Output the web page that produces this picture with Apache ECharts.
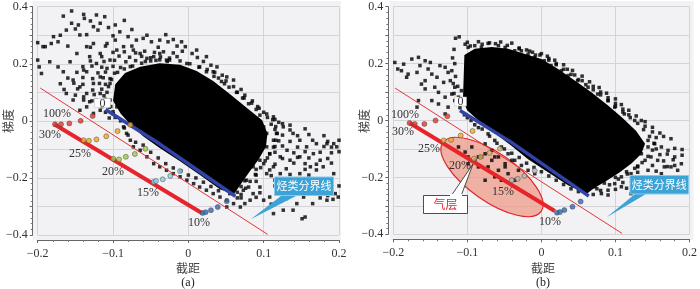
<!DOCTYPE html>
<html>
<head>
<meta charset="utf-8">
<script src="https://cdn.jsdelivr.net/npm/echarts@6/dist/echarts.min.js"></script>
<style>
html, body { margin: 0; padding: 0; background: #fff; }
#chart { width: 700px; height: 289px; }
</style>
</head>
<body>
<div id="chart"></div>
<script>
// ---- (a) 数据 ----
const coreA = [
  [-0.100, 0.070], [-0.097, 0.128], [-0.084, 0.168], [-0.064, 0.190], [-0.038, 0.202], [-0.011, 0.197],
  [0.011, 0.175], [0.033, 0.140], [0.055, 0.094], [0.077, 0.047], [0.098, 0.002], [0.105, -0.044],
  [0.103, -0.091], [0.093, -0.136], [0.080, -0.183], [0.068, -0.228], [0.060, -0.258], [0.042, -0.240],
  [0.015, -0.189], [-0.011, -0.142], [-0.038, -0.095], [-0.060, -0.054], [-0.077, -0.013], [-0.090, 0.026]
];
const rimA = [
  [-0.106, 0.120], [-0.102, 0.145], [-0.094, 0.170], [-0.085, 0.182], [-0.074, 0.192], [-0.062, 0.202],
  [-0.050, 0.210], [-0.038, 0.214], [-0.025, 0.213], [-0.011, 0.210], [0.002, 0.200], [0.014, 0.188],
  [0.024, 0.172], [0.034, 0.156], [0.044, 0.138], [0.054, 0.118], [0.064, 0.100], [0.074, 0.080],
  [0.084, 0.062], [0.094, 0.044], [0.104, 0.024], [0.112, 0.004], [0.116, -0.020], [0.118, -0.044],
  [0.116, -0.068], [0.113, -0.092], [0.108, -0.116], [0.102, -0.140], [0.096, -0.164], [0.089, -0.188],
  [0.082, -0.212], [0.076, -0.236], [0.070, -0.258], [-0.108, 0.100], [-0.110, 0.075], [-0.103, 0.050],
  [-0.100, 0.025]
];
const dotsA = [
  [-0.155, 0.385], [-0.166, 0.367], [-0.139, 0.373], [-0.138, 0.359], [-0.122, 0.371], [-0.111, 0.365],
  [-0.097, 0.336], [-0.155, 0.342], [-0.146, 0.336], [-0.162, 0.318], [-0.144, 0.301], [-0.126, 0.330],
  [-0.117, 0.342], [-0.106, 0.327], [-0.091, 0.312], [-0.080, 0.295], [-0.069, 0.283], [-0.060, 0.289],
  [-0.049, 0.277], [-0.038, 0.283], [-0.027, 0.277], [-0.020, 0.285], [-0.009, 0.277], [-0.004, 0.260],
  [0.011, 0.248], [0.024, 0.225], [0.038, 0.189], [0.051, 0.154], [0.060, 0.143],
  [-0.179, 0.295], [-0.173, 0.277], [-0.182, 0.271], [-0.193, 0.260], [-0.200, 0.274], [-0.200, 0.213],
  [-0.198, 0.189], [-0.195, 0.166], [-0.184, 0.207], [-0.173, 0.189], [-0.166, 0.172], [-0.157, 0.207],
  [-0.148, 0.236], [-0.135, 0.260], [-0.126, 0.271], [-0.117, 0.236], [-0.108, 0.271], [-0.131, 0.225],
  [-0.122, 0.201], [-0.108, 0.184], [-0.139, 0.178], [-0.153, 0.143], [-0.144, 0.119], [-0.135, 0.096],
  [-0.126, 0.131], [-0.117, 0.154], [-0.104, 0.213], [-0.095, 0.248], [-0.086, 0.260], [-0.097, 0.283],
  [-0.073, 0.248], [-0.064, 0.236], [-0.055, 0.219], [-0.046, 0.225], [-0.038, 0.236], [-0.029, 0.213],
  [-0.015, 0.225], [-0.002, 0.201], [0.015, 0.189], [0.033, 0.172],
  [-0.190, 0.260], [-0.160, 0.262], [-0.130, 0.258], [-0.110, 0.262], [-0.075, 0.262], [-0.040, 0.258],
  [-0.015, 0.262], [-0.170, 0.300], [-0.135, 0.302], [-0.100, 0.298], [-0.055, 0.300], [-0.030, 0.302],
  [-0.150, 0.322], [-0.120, 0.318], [-0.075, 0.320], [-0.130, 0.350], [-0.085, 0.352],
  [-0.100, 0.240], [-0.085, 0.242], [-0.070, 0.238], [-0.058, 0.244], [-0.045, 0.240], [-0.033, 0.242],
  [-0.020, 0.238], [-0.008, 0.244], [0.005, 0.236],
  [-0.115, 0.225], [-0.092, 0.227], [-0.078, 0.223], [-0.062, 0.226], [-0.050, 0.221], [-0.037, 0.224],
  [-0.025, 0.220], [0.012, 0.222], [0.020, 0.208],
  [-0.130, 0.210], [-0.112, 0.208], [-0.098, 0.212], [-0.083, 0.207], [-0.070, 0.211], [-0.057, 0.208],
  [-0.043, 0.212], [-0.028, 0.208], [0.030, 0.195],
  [-0.140, 0.190], [-0.128, 0.192], [-0.115, 0.188], [-0.100, 0.191], [-0.090, 0.187], [-0.077, 0.190],
  [0.025, 0.180], [0.035, 0.170], [0.045, 0.160],
  [-0.148, 0.170], [-0.135, 0.172], [-0.120, 0.168], [-0.110, 0.171], [-0.098, 0.167], [0.040, 0.150],
  [0.050, 0.140], [-0.160, 0.150], [-0.140, 0.152], [-0.127, 0.148], [-0.113, 0.151], [-0.104, 0.148],
  [0.048, 0.130], [0.060, 0.120], [0.070, 0.110], [-0.170, 0.130], [-0.152, 0.132], [-0.140, 0.128],
  [-0.118, 0.131], [-0.110, 0.128], [0.065, 0.100], [0.075, 0.090], [-0.165, 0.110], [-0.147, 0.112],
  [-0.127, 0.108], [-0.115, 0.111], [0.072, 0.080], [0.085, 0.070], [-0.150, 0.090], [-0.125, 0.092],
  [-0.112, 0.088], [0.080, 0.060], [0.092, 0.050], [-0.128, 0.070], [-0.110, 0.072], [0.090, 0.040],
  [0.100, 0.030], [-0.115, 0.050], [-0.105, 0.048], [0.095, 0.020], [0.105, 0.012], [0.115, 0.005],
  [-0.110, 0.030], [-0.100, 0.032], [0.120, -0.005], [-0.105, 0.010], [-0.097, 0.012], [0.110, -0.012],
  [0.125, -0.010], [0.135, -0.015],
  [0.113, 0.014], [0.126, -0.021], [0.139, -0.044], [0.148, -0.068], [0.157, -0.091], [0.170, -0.080],
  [0.184, -0.080], [0.193, -0.080], [0.197, -0.091], [0.175, -0.138], [0.162, -0.161], [0.148, -0.185],
  [0.135, -0.208], [0.126, -0.232], [0.139, -0.243], [0.153, -0.267], [0.175, -0.249], [0.188, -0.249],
  [0.195, -0.255], [0.199, -0.267], [0.184, -0.278], [0.113, -0.325], [0.126, -0.313], [0.144, -0.290],
  [0.139, -0.313], [0.151, -0.343], [0.155, -0.337], [0.095, -0.138], [0.086, -0.161], [0.104, -0.185],
  [0.113, -0.161], [0.122, -0.126], [0.131, -0.103], [0.104, -0.091], [0.086, -0.091], [0.113, -0.068],
  [0.135, -0.138], [0.148, -0.126], [0.166, -0.115], [0.095, -0.232], [0.086, -0.255], [0.100, -0.278],
  [0.108, -0.267], [0.069, -0.302], [0.082, -0.278], [0.073, -0.243], [0.060, -0.290], [0.051, -0.302],
  [0.060, -0.208], [0.077, -0.208], [0.100, -0.021], [0.104, -0.044], [0.117, -0.044], [0.108, -0.115],
  [0.122, -0.185], [0.179, -0.161], [0.193, -0.185],
  [0.115, -0.030], [0.135, -0.032], [0.155, -0.028], [0.125, -0.050], [0.145, -0.052], [0.160, -0.048],
  [0.180, -0.052], [0.120, -0.070], [0.135, -0.072], [0.165, -0.068], [0.185, -0.072], [0.200, -0.068],
  [0.115, -0.090], [0.125, -0.088], [0.145, -0.092], [0.180, -0.090], [0.190, -0.092], [0.115, -0.110],
  [0.140, -0.112], [0.155, -0.108], [0.175, -0.110], [0.190, -0.112], [0.200, -0.108], [0.105, -0.130],
  [0.125, -0.132], [0.145, -0.128], [0.160, -0.130], [0.185, -0.132], [0.100, -0.150], [0.115, -0.152],
  [0.140, -0.148], [0.155, -0.150], [0.170, -0.152], [0.190, -0.148], [0.090, -0.170], [0.108, -0.172],
  [0.130, -0.168], [0.155, -0.170], [0.170, -0.172], [0.090, -0.190], [0.110, -0.192], [0.135, -0.188],
  [0.160, -0.190], [0.075, -0.210], [0.090, -0.212], [0.115, -0.208], [0.145, -0.210], [0.070, -0.230],
  [0.080, -0.232], [0.115, -0.228], [0.130, -0.230], [0.160, -0.232], [0.200, -0.228], [0.065, -0.250],
  [0.095, -0.252], [0.120, -0.248], [0.165, -0.250], [0.185, -0.262], [0.070, -0.270], [0.090, -0.268],
  [0.130, -0.272], [0.175, -0.270], [0.192, -0.275], [0.075, -0.290], [0.110, -0.292], [0.165, -0.290],
  [-0.144, 0.037], [-0.135, 0.049], [-0.126, 0.026], [-0.117, 0.037], [-0.113, 0.061], [-0.104, 0.073],
  [-0.095, 0.049], [-0.091, 0.084], [-0.082, 0.108], [-0.095, 0.119], [-0.104, 0.131], [-0.117, 0.096],
  [-0.122, 0.073], [-0.131, 0.067], [-0.139, 0.073], [-0.153, 0.073], [-0.162, 0.096], [-0.139, 0.084],
  [-0.086, -0.021], [-0.082, -0.044], [-0.077, -0.068], [-0.073, -0.091], [-0.064, -0.103], [-0.055, -0.126],
  [-0.046, -0.150], [-0.038, -0.161], [-0.029, -0.173], [-0.020, -0.185], [-0.011, -0.196], [-0.002, -0.208],
  [0.007, -0.220], [0.015, -0.232], [0.024, -0.243], [0.033, -0.255], [0.042, -0.267], [0.051, -0.278],
  [-0.090, 0.000], [-0.085, -0.025], [-0.080, -0.050], [-0.070, -0.075], [-0.060, -0.085], [-0.050, -0.110],
  [-0.040, -0.130], [-0.030, -0.150], [-0.020, -0.165], [-0.010, -0.175], [0.000, -0.190], [0.010, -0.200],
  [0.020, -0.215], [0.030, -0.230], [0.040, -0.245], [0.055, -0.255], [0.065, -0.270]
];
const thinRedA = [[-0.1966, 0.115], [0.1054, -0.398]];
const thickRedA = [[-0.178, -0.012], [0.0178, -0.323]];
const blueA = [[-0.110, 0.040], [-0.042, -0.074], [0.0624, -0.264]];
const satA30 = [[-0.177, -0.012], [-0.169, -0.012], [-0.158, -0.009], [-0.143, 0.0], [-0.127, 0.017]];
const satA25 = [[-0.139, -0.068], [-0.132, -0.070], [-0.122, -0.065], [-0.109, -0.054], [-0.094, -0.036], [-0.077, -0.014]];
const satA20 = [[-0.0996, -0.133], [-0.092, -0.135], [-0.083, -0.126], [-0.071, -0.116], [-0.057, -0.098]];
const satA15 = [[-0.046, -0.214], [-0.043, -0.211], [-0.034, -0.205], [-0.024, -0.193], [-0.011, -0.176]];
const satA10 = [[0.019, -0.323], [0.023, -0.320], [0.030, -0.313], [0.039, -0.302], [0.051, -0.282]];

// ---- (b) 数据 ----
const coreB = [
  [-0.106, 0.070], [-0.104, 0.230], [-0.090, 0.252], [-0.067, 0.258], [-0.045, 0.252], [-0.022, 0.234],
  [0.000, 0.216], [0.022, 0.182], [0.045, 0.141], [0.067, 0.100], [0.090, 0.053], [0.110, 0.008],
  [0.128, -0.037], [0.140, -0.082], [0.135, -0.117], [0.122, -0.150], [0.105, -0.184], [0.088, -0.212],
  [0.070, -0.240], [0.061, -0.258], [0.036, -0.228], [0.009, -0.182], [-0.018, -0.136], [-0.040, -0.090],
  [-0.063, -0.045], [-0.085, 0.000], [-0.100, 0.035]
];
const rimB = [
  [-0.096, 0.262], [-0.080, 0.268], [-0.062, 0.270], [-0.046, 0.264], [-0.030, 0.255], [-0.016, 0.244],
  [-0.002, 0.230], [0.010, 0.212], [0.020, 0.196], [0.030, 0.180], [0.040, 0.162], [0.050, 0.144],
  [0.060, 0.126], [0.070, 0.108], [0.080, 0.090], [0.090, 0.070], [0.100, 0.050], [0.110, 0.030],
  [0.120, 0.010], [0.130, -0.010], [0.138, -0.032], [0.146, -0.056], [0.152, -0.080], [0.150, -0.104],
  [0.144, -0.126], [0.136, -0.148], [0.126, -0.168], [0.116, -0.188], [0.104, -0.206], [0.092, -0.226],
  [0.080, -0.246]
];
const dotsB = [
  [-0.116, 0.289], [-0.111, 0.294], [-0.198, 0.204], [-0.194, 0.181], [-0.186, 0.198], [-0.175, 0.216],
  [-0.166, 0.222], [-0.164, 0.193], [-0.157, 0.210], [-0.150, 0.204], [-0.153, 0.181], [-0.168, 0.169],
  [-0.182, 0.152], [-0.189, 0.175], [-0.180, 0.163], [-0.148, 0.163], [-0.141, 0.152], [-0.137, 0.193],
  [-0.130, 0.187], [-0.126, 0.169], [-0.123, 0.140], [-0.132, 0.134], [-0.144, 0.117], [-0.139, 0.099],
  [-0.157, 0.111], [-0.166, 0.070], [-0.168, 0.047], [-0.148, 0.070], [-0.139, 0.058], [-0.130, 0.082],
  [-0.121, 0.093], [-0.117, 0.117], [-0.126, 0.047], [-0.130, 0.023], [-0.117, 0.070], [-0.112, 0.082],
  [-0.108, 0.105], [-0.157, 0.140], [-0.162, 0.128],
  [-0.103, 0.268], [-0.099, 0.257], [-0.090, 0.263], [-0.081, 0.257], [-0.072, 0.271], [-0.058, 0.263],
  [-0.049, 0.257], [-0.036, 0.245], [-0.027, 0.245], [-0.018, 0.233], [-0.009, 0.222], [0.004, 0.210],
  [0.013, 0.193], [0.027, 0.175], [0.036, 0.158], [0.049, 0.140], [0.063, 0.117], [0.076, 0.093],
  [0.090, 0.070], [0.099, 0.047], [0.112, 0.023], [0.126, 0.000],
  [-0.100, 0.275], [-0.085, 0.277], [-0.070, 0.273], [-0.055, 0.276], [-0.040, 0.272], [-0.030, 0.252],
  [-0.020, 0.248], [-0.012, 0.240], [0.000, 0.235], [-0.008, 0.230], [0.008, 0.226], [0.010, 0.218],
  [0.018, 0.212], [0.020, 0.200], [0.030, 0.196], [0.035, 0.180], [0.042, 0.176], [0.045, 0.160],
  [0.055, 0.156], [0.055, 0.140], [0.065, 0.136], [0.070, 0.120], [0.078, 0.116], [0.080, 0.100],
  [0.088, 0.096], [0.090, 0.080], [0.100, 0.076], [0.100, 0.060], [0.108, 0.056], [0.110, 0.040],
  [0.118, 0.036], [0.118, 0.020], [0.128, 0.016], [0.135, 0.000], [0.140, -0.004], [0.140, -0.020],
  [0.150, -0.024], [0.150, -0.040], [0.160, -0.044], [0.155, -0.060], [0.165, -0.056], [0.175, -0.064],
  [0.144, -0.070], [0.153, -0.082], [0.162, -0.093], [0.171, -0.105], [0.180, -0.128], [0.189, -0.152],
  [0.175, -0.163], [0.184, -0.175], [0.166, -0.163], [0.157, -0.140], [0.148, -0.128], [0.135, -0.117],
  [0.126, -0.128], [0.117, -0.140], [0.130, -0.163], [0.144, -0.175], [0.162, -0.187], [0.171, -0.198],
  [0.135, -0.210], [0.121, -0.187], [0.108, -0.198], [0.099, -0.222], [0.090, -0.245], [0.081, -0.257],
  [0.072, -0.233], [0.063, -0.222], [0.108, -0.233], [0.121, -0.257], [0.099, -0.163], [0.081, -0.187],
  [0.144, -0.093],
  [0.155, -0.100], [0.180, -0.098], [0.190, -0.102], [0.160, -0.120], [0.170, -0.118], [0.190, -0.122],
  [0.140, -0.140], [0.165, -0.142], [0.178, -0.138], [0.130, -0.160], [0.150, -0.158], [0.170, -0.162],
  [0.180, -0.158], [0.115, -0.180], [0.130, -0.182], [0.155, -0.178], [0.100, -0.200], [0.125, -0.202],
  [0.145, -0.198], [0.160, -0.202], [0.085, -0.220], [0.110, -0.218], [0.130, -0.222], [0.075, -0.240],
  [0.100, -0.242], [0.115, -0.238], [0.070, -0.260], [0.090, -0.262],
  [-0.118, 0.250], [-0.120, 0.220], [-0.117, 0.200], [-0.121, 0.175], [-0.116, 0.155], [-0.119, 0.130],
  [-0.113, 0.120], [-0.118, 0.095], [-0.113, 0.060], [-0.110, 0.045], [-0.104, 0.020], [-0.100, 0.010],
  [-0.095, 0.000], [-0.090, -0.015], [-0.085, -0.025],
  [-0.072, -0.047], [-0.063, -0.070], [-0.054, -0.093], [-0.045, -0.117], [-0.036, -0.140], [-0.027, -0.158],
  [-0.018, -0.175], [-0.009, -0.187], [-0.058, -0.128], [-0.049, -0.152], [-0.067, -0.105], [-0.076, -0.082],
  [-0.080, -0.030], [-0.070, -0.055], [-0.060, -0.080], [-0.050, -0.100], [-0.040, -0.115], [-0.030, -0.130],
  [-0.020, -0.150], [-0.010, -0.165], [0.000, -0.180], [0.010, -0.195], [0.020, -0.210], [0.030, -0.225],
  [0.040, -0.240], [0.050, -0.250],
  [-0.112, -0.093], [-0.103, -0.111], [-0.094, -0.093], [-0.085, -0.128], [-0.076, -0.117], [-0.072, -0.163],
  [-0.067, -0.140], [-0.063, -0.198], [-0.058, -0.175], [-0.054, -0.210], [-0.049, -0.163], [-0.045, -0.187],
  [-0.040, -0.140], [-0.036, -0.210], [-0.031, -0.175], [-0.063, -0.128], [-0.076, -0.210], [-0.085, -0.163],
  [-0.099, -0.152], [-0.081, -0.128], [-0.090, -0.140], [-0.099, -0.128]
];
const thinRedB = [[-0.1976, 0.114], [0.109, -0.397]];
const thickRedB = [[-0.178, -0.009], [0.018, -0.318]];
const blueB = [[-0.110, 0.035], [-0.041, -0.076], [0.064, -0.266]];
const satB30 = [[-0.178, -0.009], [-0.171, -0.012], [-0.158, -0.012], [-0.143, 0.0], [-0.127, 0.015]];
const satB25 = [[-0.132, -0.070], [-0.122, -0.068], [-0.109, -0.053], [-0.093, -0.037]];
const satB20 = [[-0.091, -0.134], [-0.082, -0.128], [-0.070, -0.114], [-0.056, -0.099]];
const satB15 = [[-0.040, -0.210], [-0.032, -0.205], [-0.023, -0.195], [-0.009, -0.177]];
const satB10 = [[0.021, -0.324], [0.025, -0.322], [0.031, -0.315], [0.042, -0.303], [0.053, -0.285]];

const pctLabels = ['100%', '30%', '25%', '20%', '15%', '10%'];
const boundaryName = '烃类分界线';
const gasName = '气层';

const SERIF = '"Liberation Serif", "Noto Sans CJK SC", serif';
const CJK = '"Noto Sans CJK SC", sans-serif';

const tickText = (v, skipOdd) => {
  const r = Math.round(v * 10);
  if (skipOdd && r % 2 !== 0) return '';
  if (r === 0) return '0';
  return (r < 0 ? '\u2212' : '') + Math.abs(r / 10).toFixed(1);
};

const xAxisOf = (i) => ({
  gridIndex: i, type: 'value', min: -0.2, max: 0.2, interval: 0.1, offset: 5,
  axisLine: { show: true, onZero: false, lineStyle: { color: '#666', width: 1 } },
  axisTick: { show: true, length: 3, lineStyle: { color: '#666' } },
  minorTick: { show: true, splitNumber: 5, length: 2, lineStyle: { color: '#777' } },
  axisLabel: { color: '#333', fontFamily: SERIF, fontSize: 12, margin: 8, formatter: (v) => tickText(v, false) },
  splitLine: { show: true, lineStyle: { color: '#d3d3d8', width: 1 } },
});

const yAxisOf = (i) => ({
  gridIndex: i, type: 'value', min: -0.4, max: 0.4, interval: 0.1, offset: 5,
  axisLine: { show: true, onZero: false, lineStyle: { color: '#666', width: 1 } },
  axisTick: { show: true, length: 3, lineStyle: { color: '#666' } },
  minorTick: { show: true, splitNumber: 5, length: 2, lineStyle: { color: '#777' } },
  axisLabel: { color: '#333', fontFamily: SERIF, fontSize: 12, margin: 5, formatter: (v) => tickText(v, true) },
  splitLine: { show: true, lineStyle: { color: '#d3d3d8', width: 1 } },
});

const cloudSeries = (i, core, dots) => [
  {
    type: 'custom', xAxisIndex: i, yAxisIndex: i, silent: true, z: 2,
    data: [0],
    renderItem: (params, api) => ({
      type: 'polygon',
      shape: { points: core.map((p) => api.coord(p)) },
      style: { fill: '#000' },
    }),
  },
  {
    type: 'scatter', xAxisIndex: i, yAxisIndex: i, silent: true, z: 2,
    symbol: 'rect', symbolSize: 3.5, itemStyle: { color: '#000' },
    data: dots,
  },
];

const lineSeries = (i, data, color, width) => ({
  type: 'line', xAxisIndex: i, yAxisIndex: i, silent: true, z: 3,
  showSymbol: false, data,
  lineStyle: { color, width },
});

const ringSeries = (i, data, color) => ({
  type: 'scatter', xAxisIndex: i, yAxisIndex: i, silent: true, z: 4,
  symbol: 'circle', symbolSize: 5,
  itemStyle: { color, borderColor: '#444', borderWidth: 0.6 },
  data,
});

const panelSeries = (i, d) => [
  ...cloudSeries(i, d.core, d.dots.concat(d.rim)),
  lineSeries(i, d.thin, '#e3343a', 1),
  lineSeries(i, d.thick, '#e8242b', 4),
  lineSeries(i, d.blue, '#3142a8', 3.5),
  ringSeries(i, d.s30, '#e5332a'),
  ringSeries(i, d.s25, '#f2a81d'),
  ringSeries(i, d.s20, d.c20),
  ringSeries(i, d.s15, d.c15),
  ringSeries(i, d.s10, '#2f6bb4'),
];

const txt = (x, y, text, opt) => ({
  type: 'text', x, y, z: 20, silent: true,
  style: Object.assign({ text, fill: '#333', font: '12px ' + SERIF, textAlign: 'center', textVerticalAlign: 'middle' }, opt || {}),
});

const panelGraphic = (p) => [
  { type: 'rect', z: -5, silent: true, shape: { x: p.fx, y: 1, width: p.fw, height: 239 }, style: { fill: '#f2f2f5' } },
  txt(p.nameX, 268, '截距', { font: '12px ' + CJK, fill: '#444' }),
  txt(p.nameX, 283, p.tag, { font: '12px ' + SERIF, fill: '#222' }),
  Object.assign(txt(p.yNameX, 121, '梯度', { font: '12px ' + CJK, fill: '#444' }), { rotation: Math.PI / 2 }),
  // "0" 标签
  { type: 'rect', z: 19, silent: true, shape: p.zeroBox, style: { fill: '#fff', stroke: '#bbb', lineWidth: 0.5 } },
  txt(p.zeroBox.x + p.zeroBox.width / 2, p.zeroBox.y + p.zeroBox.height / 2 + 0.5, '0'),
  ...pctLabels.map((t, k) => txt(p.pct[k][0], p.pct[k][1], t)),
  // 烃类分界线
  { type: 'polygon', z: 18, silent: true, shape: { points: p.wedge }, style: { fill: '#3da3d6' } },
  { type: 'rect', z: 18, silent: true, shape: p.callBox, style: { fill: '#3da3d6', stroke: '#86cbeb', lineWidth: 1 } },
  txt(p.callBox.x + p.callBox.width / 2, p.callBox.y + p.callBox.height / 2, boundaryName, { fill: '#fff', font: '11px ' + CJK }),
];

const gasGraphic = [
  {
    type: 'ellipse', z: 1, silent: true, x: 492, y: 177, rotation: -35 * Math.PI / 180,
    shape: { cx: 0, cy: 0, rx: 60, ry: 24 },
    style: { fill: 'rgba(238, 150, 128, 0.7)', stroke: '#e3262c', lineWidth: 1.2 },
  },
  { type: 'polygon', z: 19, silent: true, shape: { points: [[451, 196], [461, 196], [473, 164]] }, style: { fill: '#fff', stroke: '#222', lineWidth: 0.8 } },
  { type: 'rect', z: 19, silent: true, shape: { x: 423.5, y: 195.5, width: 44, height: 18 }, style: { fill: '#fff', stroke: '#222', lineWidth: 0.8 } },
  { type: 'rect', z: 19, silent: true, shape: { x: 450, y: 194, width: 12, height: 3 }, style: { fill: '#fff' } },
  txt(445.5, 204.5, gasName, { fill: '#e3262c', font: '12px ' + CJK }),
];

const chart = echarts.init(document.getElementById('chart'), null, { renderer: 'canvas' });
chart.setOption({
  animation: false,
  backgroundColor: '#fff',
  grid: [
    { left: 37.7, top: 6.7, width: 301.3, height: 228.3 },
    { left: 393.3, top: 6.7, width: 296.7, height: 227.6 },
  ],
  xAxis: [xAxisOf(0), xAxisOf(1)],
  yAxis: [yAxisOf(0), yAxisOf(1)],
  series: [
    ...panelSeries(0, {
      core: coreA, rim: rimA, dots: dotsA, thin: thinRedA, thick: thickRedA, blue: blueA,
      s30: satA30, s25: satA25, s20: satA20, s15: satA15, s10: satA10,
      c20: '#9ccd3f', c15: '#86d0e6',
    }),
    ...panelSeries(1, {
      core: coreB, rim: rimB, dots: dotsB, thin: thinRedB, thick: thickRedB, blue: blueB,
      s30: satB30, s25: satB25, s20: satB20, s15: satB15, s10: satB10,
      c20: '#d9b85a', c15: '#b4b4b4',
    }),
  ],
  graphic: [
    ...panelGraphic({
      fx: 32.5, fw: 308.5, nameX: 188, yNameX: 8, tag: '(a)',
      zeroBox: { x: 94.5, y: 98.5, width: 16, height: 9 },
      pct: [[57, 114], [50, 135], [80, 154], [113, 172], [148, 193], [199, 223]],
      wedge: [[281, 196], [296, 196], [250.7, 219.3]],
      callBox: { x: 274.5, y: 177, width: 59, height: 18.5 },
    }),
    ...panelGraphic({
      fx: 389.5, fw: 304, nameX: 543, yNameX: 364, tag: '(b)',
      zeroBox: { x: 454.5, y: 97, width: 12, height: 9 },
      pct: [[405, 115], [403, 132], [429, 149], [460, 166], [503, 192], [550, 222]],
      wedge: [[635, 194], [646, 194], [606.7, 217.3]],
      callBox: { x: 630, y: 175.5, width: 58.5, height: 18.5 },
    }),
    ...gasGraphic,
  ],
});
</script>
</body>
</html>
